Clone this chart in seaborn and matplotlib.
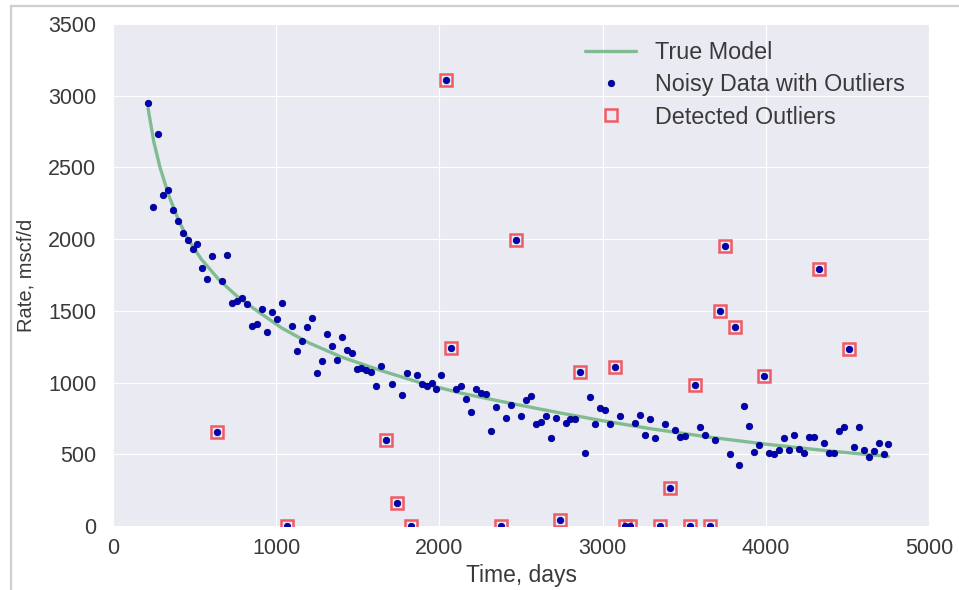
import numpy as np
import matplotlib
matplotlib.use("Agg")
import matplotlib.pyplot as plt
import seaborn as sns
from matplotlib.lines import Line2D

# ---- data ----
time_days = [215, 243, 274, 305, 335, 366, 396, 427, 458, 488,
             516, 547, 577, 608, 640, 670, 698, 729, 760, 790,
             819, 850, 881, 915, 945, 977, 1007, 1035, 1067, 1097,
             1127, 1158, 1189, 1219, 1250, 1280, 1312, 1342, 1370, 1402,
             1432, 1463, 1493, 1522, 1552, 1583, 1613, 1642, 1673, 1707,
             1739, 1769, 1799, 1828, 1861, 1891, 1922, 1953, 1981, 2012,
             2040, 2071, 2102, 2132, 2162, 2194, 2224, 2255, 2286, 2316,
             2345, 2375, 2406, 2437, 2469, 2501, 2531, 2561, 2592, 2623,
             2653, 2682, 2712, 2741, 2774, 2802, 2833, 2863, 2894, 2924,
             2956, 2984, 3014, 3046, 3078, 3107, 3137, 3168, 3199, 3229,
             3259, 3291, 3323, 3353, 3384, 3415, 3445, 3475, 3505, 3535,
             3566, 3597, 3628, 3658, 3688, 3718, 3750, 3778, 3810, 3838,
             3868, 3898, 3930, 3960, 3991, 4021, 4052, 4083, 4113, 4145,
             4175, 4205, 4234, 4265, 4295, 4326, 4356, 4388, 4418, 4448,
             4480, 4510, 4540, 4569, 4600, 4631, 4661, 4692, 4723, 4750]

rate_noisy = [2951, 2222, 2734, 2306, 2342, 2201, 2127, 2046, 1991, 1933,
              1963, 1799, 1724, 1884, 655, 1710, 1889, 1556, 1569, 1590,
              1549, 1391, 1407, 1516, 1356, 1491, 1444, 1556, 0, 1391,
              1222, 1287, 1387, 1447, 1065, 1148, 1338, 1257, 1157, 1319,
              1229, 1206, 1092, 1102, 1090, 1074, 974, 1113, 597, 993,
              160, 910, 1069, 0, 1053, 993, 977, 1000, 956, 1053,
              3110, 1238, 958, 979, 884, 794, 958, 924, 919, 660,
              833, 0, 750, 847, 1993, 764, 880, 905, 711, 725,
              769, 616, 755, 40, 715, 748, 748, 1072, 507, 900,
              711, 822, 806, 711, 1109, 764, 0, 0, 715, 771,
              632, 748, 616, 0, 711, 262, 667, 623, 625, 0,
              984, 690, 637, 0, 599, 1500, 1954, 500, 1389, 424,
              835, 699, 519, 565, 1044, 512, 500, 528, 611, 533,
              637, 540, 507, 618, 618, 1792, 581, 507, 512, 662,
              690, 1231, 551, 690, 528, 481, 521, 581, 500, 572]

outlier_time = [640, 1067, 1673, 1739, 1828, 2040, 2071, 2375, 2469, 2741,
                2863, 3078, 3137, 3168, 3353, 3415, 3535, 3566, 3658, 3718,
                3750, 3810, 3991, 4326, 4510]
outlier_rate = [655, 0, 597, 160, 0, 3110, 1238, 0, 1993, 40,
                1072, 1109, 0, 0, 0, 262, 0, 984, 0, 1500,
                1954, 1389, 1044, 1792, 1231]

model_time = [215, 250, 288, 340, 400, 455, 540, 650, 760, 880,
              1036, 1200, 1400, 1636, 1900, 2150, 2433, 2750, 3000, 3290,
              3650, 4005, 4380, 4751]
model_rate = [2911, 2678, 2501, 2310, 2137, 2008, 1862, 1716, 1602, 1502,
              1379, 1277, 1178, 1086, 993, 922, 856, 786, 734, 679,
              620, 570, 524, 485]

x_ticks = [0, 1000, 2000, 3000, 4000, 5000]
y_ticks = [0, 500, 1000, 1500, 2000, 2500, 3000, 3500]

# ---- style ----
sns.set_style("darkgrid", {"axes.facecolor": "#EAEAF2", "grid.color": "white"})
plt.rcParams["font.family"] = ["Liberation Sans", "DejaVu Sans"]
text_col = "#3a3a3a"

fig = plt.figure(figsize=(9.59, 5.90), dpi=100)
W, H = 959, 590
ax = fig.add_axes([113 / W, 1 - 526 / H, (929 - 113) / W, (526 - 24) / H])

sns.lineplot(x=model_time, y=model_rate, ax=ax, color="#55A868", alpha=0.7,
             linewidth=2.4, label="True Model", estimator=None, sort=False)
sns.lineplot(x=time_days, y=rate_noisy, ax=ax, estimator=None, sort=False,
             linestyle="", marker="o", markersize=4.6, color="#0000b8",
             markeredgecolor="#00007a", markeredgewidth=0.6,
             label="Noisy Data with Outliers", zorder=4)
sns.lineplot(x=outlier_time, y=outlier_rate, ax=ax, estimator=None, sort=False,
             linestyle="", marker="s", markersize=8.5, markerfacecolor="none",
             markeredgecolor="#ef5b66", markeredgewidth=1.8, color="#ef5b66",
             label="Detected Outliers", zorder=3)

ax.set_xlim(0, 5000)
ax.set_ylim(0, 3500)
ax.set_xticks(x_ticks)
ax.set_yticks(y_ticks)
ax.tick_params(axis="both", labelsize=15.5, colors=text_col, length=0)
ax.tick_params(axis="x", pad=9)
ax.tick_params(axis="y", pad=12)
ax.set_xlabel("Time, days", fontsize=16.5, color=text_col, labelpad=3)
ax.set_ylabel("Rate, mscf/d", fontsize=14.5, color=text_col, labelpad=9)
for s in ax.spines.values():
    s.set_visible(False)

leg = ax.legend(loc="upper right", bbox_to_anchor=(0.996, 1.008), frameon=False,
                fontsize=16.8, handlelength=2.2, labelspacing=0.4, handletextpad=0.8)
for t in leg.get_texts():
    t.set_color(text_col)

# screenshot frame lines
fig.add_artist(Line2D([11 / W, 11 / W], [0, 1 - 6 / H], transform=fig.transFigure,
                      color="#cfcfcf", linewidth=1.6))
fig.add_artist(Line2D([11 / W, 1], [1 - 6 / H, 1 - 6 / H], transform=fig.transFigure,
                      color="#cfcfcf", linewidth=1.6))

fig.savefig("out.png", dpi=100)
